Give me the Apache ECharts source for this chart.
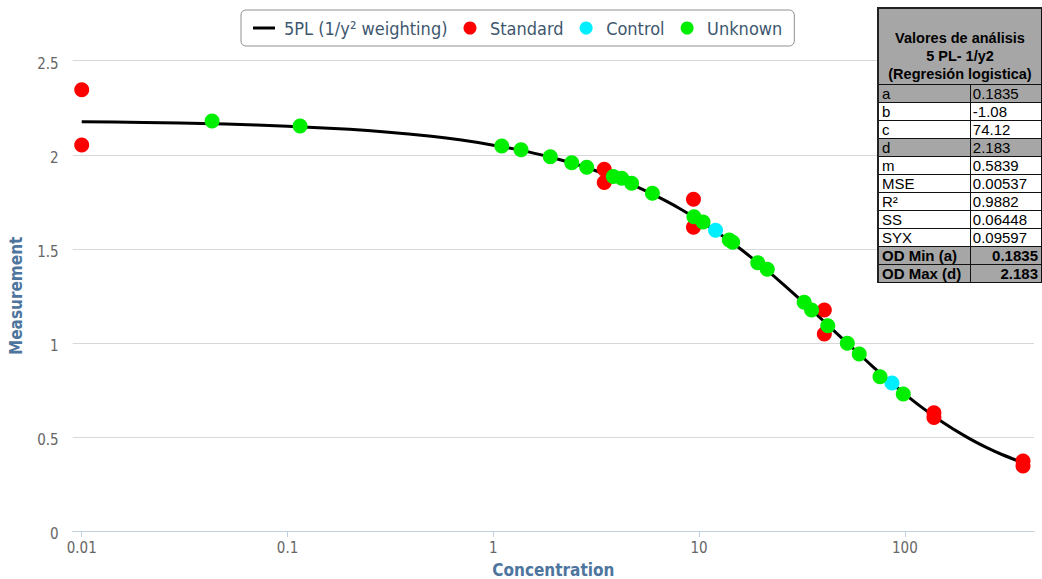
<!DOCTYPE html>
<html>
<head>
<meta charset="utf-8">
<script src="https://cdn.jsdelivr.net/npm/echarts@6/dist/echarts.min.js"></script>
<style>
  html, body { margin: 0; padding: 0; background: #fff; overflow: hidden; }
  #chart { position: absolute; left: 0; top: 0; width: 1042px; height: 579px; }
  #stats {
    position: absolute; left: 877px; top: 7px;
    border-collapse: collapse; table-layout: fixed;
    font-family: 'Liberation Sans', Arial, sans-serif; font-size: 15px; color: #000;
    border-left: 2px solid #222; border-top: 2px solid #222;
  }
  #stats td { border: 1px solid #111; height: 17px; padding: 0 2px 0 3px; line-height: 16px; white-space: nowrap; }
  #stats td.v { padding-left: 2px; }
  #stats .head { background: #a6a6a6; font-weight: bold; text-align: center; vertical-align: bottom; height: 74px; padding: 0 1px 1px 1px; line-height: 18px; font-size: 14.5px; }
  #stats tr.grey td { background: #a6a6a6; }
  #stats tr.bold td { font-weight: bold; }
  #stats tr.bold td.v { text-align: right; padding-right: 3px; }
</style>
</head>
<body>
<div id="chart"></div>
<table id="stats"></table>
<script>
// Standard points (concentration, OD)
const standardX = [0.01, 0.01, 3.46, 3.46, 9.39, 9.39, 40.6, 40.6, 138.4, 138.4, 375, 375];
const standardY = [2.345, 2.052, 1.923, 1.852, 1.763, 1.615, 1.175, 1.047, 0.628, 0.603, 0.372, 0.346];

// Control points
const controlX = [12.02, 86.5];
const controlY = [1.599, 0.787];

// Unknown samples
const unknownX = [0.043, 0.1151, 1.099, 1.364, 1.892, 2.404, 2.844, 3.83, 4.21, 4.70, 5.93, 9.44,
                  10.45, 14.02, 14.56, 19.27, 21.44, 32.4, 35.2, 42.2, 52.5, 60.0, 75.7, 98.2];
const unknownY = [2.180, 2.153, 2.047, 2.026, 1.990, 1.958, 1.934, 1.884, 1.875, 1.849, 1.795, 1.671,
                  1.643, 1.547, 1.535, 1.426, 1.391, 1.216, 1.175, 1.091, 0.998, 0.941, 0.820, 0.728];

// Fitted 5PL curve, sampled along the concentration range
const curveX = [0.01, 0.02, 0.03, 0.05, 0.1, 0.2, 0.3, 0.5, 0.7, 1, 1.5, 2, 2.5, 3, 4, 5, 6, 7, 8, 10, 12,
                15, 20, 25, 30, 35, 40, 50, 60, 70, 85, 100, 120, 150, 200, 250, 300, 385];
const curveY = [2.176, 2.172, 2.169, 2.163, 2.152, 2.135, 2.121, 2.098, 2.078, 2.051, 2.014, 1.980, 1.951,
                1.923, 1.874, 1.829, 1.788, 1.751, 1.716, 1.652, 1.595, 1.520, 1.412, 1.322, 1.245, 1.178,
                1.119, 1.020, 0.940, 0.873, 0.792, 0.728, 0.660, 0.584, 0.499, 0.443, 0.404, 0.358];

// Axis ticks
const xTickValues = [0.01, 0.1, 1, 10, 100];
const xTickLabels = ['0.01', '0.1', '1', '10', '100'];
const yTickLabels = ['0', '0.5', '1', '1.5', '2', '2.5'];

// Series names
const seriesNames = ['5PL (1/y\u00B2 weighting)', 'Standard', 'Control', 'Unknown'];

// Fit summary table
const statsTitle = ['Valores de análisis', '5 PL- 1/y2', '(Regresión logistica)'];
const statsLabels = ['a', 'b', 'c', 'd', 'm', 'MSE', 'R\u00B2', 'SS', 'SYX', 'OD Min (a)', 'OD Max (d)'];
const statsValues = ['0.1835', '-1.08', '74.12', '2.183', '0.5839', '0.00537', '0.9882', '0.06448', '0.09597', '0.1835', '2.183'];

(function buildTable() {
  const t = document.getElementById('stats');
  let html = '<colgroup><col style="width:95px"><col style="width:76px"></colgroup>';
  html += '<tr><td class="head" colspan="2">' + statsTitle.join('<br>') + '</td></tr>';
  statsLabels.forEach((lab, i) => {
    let cls = '';
    if (lab === 'a' || lab === 'd') cls = 'grey';
    if (i >= 9) cls = 'grey bold';
    html += '<tr class="' + cls + '"><td>' + lab + '</td><td class="v">' + statsValues[i] + '</td></tr>';
  });
  t.innerHTML = html;
})();

const zip = (xs, ys) => xs.map((x, i) => [x, ys[i]]);
const FONT = "'DejaVu Sans Condensed', 'DejaVu Sans', sans-serif";

const chart = echarts.init(document.getElementById('chart'), null, { renderer: 'svg' });
chart.setOption({
  animation: false,
  backgroundColor: '#fff',
  textStyle: { fontFamily: FONT },
  grid: { left: 72.7, right: 8, top: 60.7, bottom: 48, containLabel: false, outerBoundsMode: 'none' },
  legend: {
    left: 241, top: 10,
    padding: [9, 12, 9, 12],
    borderColor: '#909090', borderWidth: 1, borderRadius: 5,
    itemWidth: 22, itemHeight: 13, itemGap: 16,
    textStyle: { color: '#3e576f', fontSize: 18, fontFamily: FONT, padding: [0, 0, 0, 4] },
    data: [
      { name: seriesNames[0], icon: 'path://M0,0 L22,0 L22,3 L0,3 Z' },
      seriesNames[1], seriesNames[2], seriesNames[3]
    ]
  },
  xAxis: {
    type: 'log', logBase: 10, min: 0.00904, max: 424,
    name: 'Concentration', nameLocation: 'middle', nameGap: 30,
    nameTextStyle: { color: '#4d759e', fontWeight: 'bold', fontSize: 17, fontFamily: FONT },
    axisLine: { show: true, lineStyle: { color: '#c0d0e0', width: 1 } },
    axisTick: { show: true, length: 6, customValues: xTickValues, lineStyle: { color: '#c0d0e0' } },
    axisLabel: {
      customValues: xTickValues, color: '#666', fontSize: 15, margin: 9, fontFamily: FONT,
      formatter: v => {
        let best = 0;
        xTickValues.forEach((t, i) => { if (Math.abs(Math.log10(t) - Math.log10(v)) < Math.abs(Math.log10(xTickValues[best]) - Math.log10(v))) best = i; });
        return xTickLabels[best];
      }
    },
    splitLine: { show: false }
  },
  yAxis: {
    type: 'value', min: 0, max: 2.5, interval: 0.5,
    name: 'Measurement', nameLocation: 'middle', nameGap: 48, nameRotate: 90,
    nameTextStyle: { color: '#4d759e', fontWeight: 'bold', fontSize: 17, fontFamily: FONT },
    axisLine: { show: false }, axisTick: { show: false },
    axisLabel: {
      color: '#666', fontSize: 15, margin: 14, fontFamily: FONT,
      verticalAlign: 'top', lineHeight: 6,
      formatter: v => yTickLabels[Math.round(v / 0.5)]
    },
    splitLine: { lineStyle: { color: '#d8d8d8', width: 1 } }
  },
  series: [
    {
      name: seriesNames[0], type: 'line', data: zip(curveX, curveY),
      showSymbol: false, symbol: 'none', smooth: 0.2,
      lineStyle: { color: '#000', width: 3 }, itemStyle: { color: '#000' }, z: 1
    },
    {
      name: seriesNames[1], type: 'scatter', data: zip(standardX, standardY),
      symbolSize: 15, itemStyle: { color: '#ff0000', opacity: 1 }, z: 2
    },
    {
      name: seriesNames[2], type: 'scatter', data: zip(controlX, controlY),
      symbolSize: 15, itemStyle: { color: '#00efff', opacity: 1 }, z: 3
    },
    {
      name: seriesNames[3], type: 'scatter', data: zip(unknownX, unknownY),
      symbolSize: 15, itemStyle: { color: '#00ee00', opacity: 1 }, z: 4
    }
  ]
});
</script>
</body>
</html>
